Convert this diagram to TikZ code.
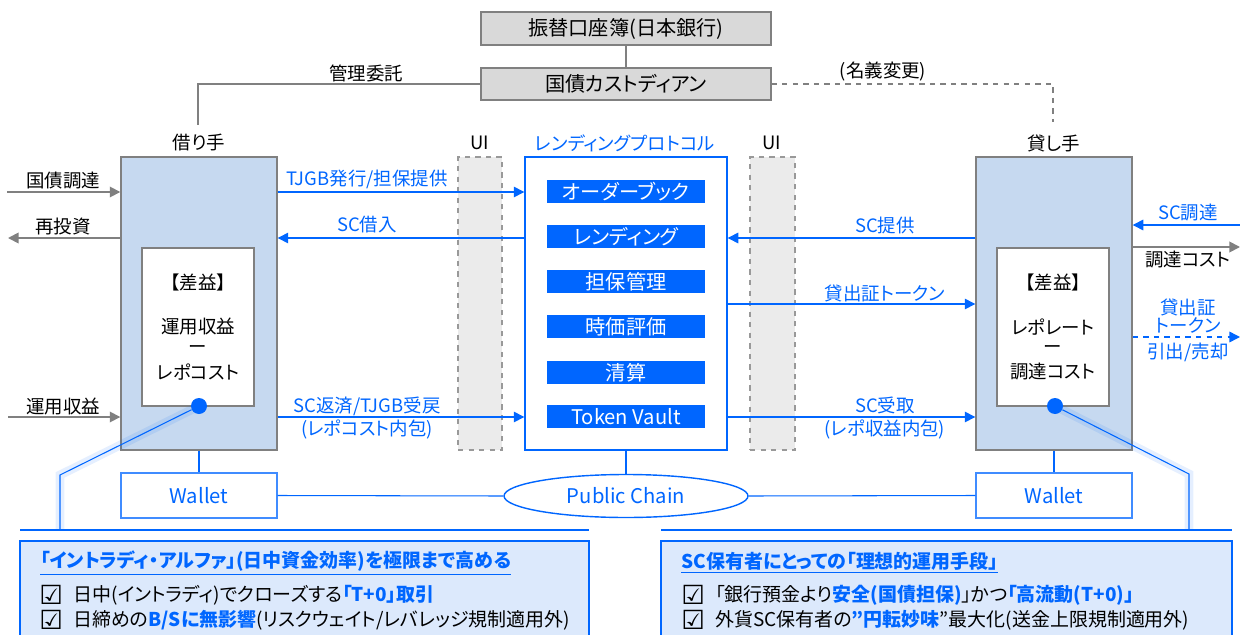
\documentclass[tikz,border=0pt]{standalone}
\usepackage{fontspec}
\setmainfont{Noto Sans CJK JP}[RawFeature={+palt}]
\newfontfamily\dejavu{DejaVu Sans}
\usetikzlibrary{arrows.meta,shapes.geometric,fit}
\definecolor{bl}{RGB}{0,102,255}
\definecolor{gline}{RGB}{128,128,128}
\definecolor{gfill}{RGB}{217,217,217}
\definecolor{lbfill}{RGB}{198,217,240}
\definecolor{pbfill}{RGB}{220,233,252}
\definecolor{uifill}{RGB}{235,235,235}
\newcommand{\fA}{\fontsize{11.5}{13}\selectfont}
\newcommand{\fB}{\fontsize{10.5}{12}\selectfont}
\newcommand{\fC}{\fontsize{10.8}{12}\selectfont}
\newcommand{\hl}[1]{\textbf{\color{bl}#1}}
\newcommand{\ckb}{{\dejavu\bfseries\fontsize{15}{15}\selectfont ☑}}
\tikzset{
 gbox/.style={draw=gline, fill=gfill, line width=0.8pt, inner sep=0pt, font=\fA, minimum width=5.8cm},
 party/.style={draw=gline, fill=lbfill, line width=0.8pt, inner sep=0pt},
 inbox/.style={draw=gline, fill=white, line width=0.6pt, inner sep=0pt},
 uibox/.style={draw=gline!80, fill=uifill, dashed, line width=0.6pt, inner sep=0pt},
 protbox/.style={draw=bl, fill=white, line width=0.8pt, inner sep=0pt},
 pitem/.style={fill=bl, text=white, inner sep=0pt, font=\fA, minimum width=3.16cm, minimum height=0.46cm},
 wallet/.style={draw=bl!75, fill=white, line width=0.8pt, inner sep=0pt, text=bl, font=\fA, minimum width=3.12cm, minimum height=0.9cm},
 lbl/.style={font=\fB, inner sep=0pt},
 blbl/.style={font=\fB, text=bl, inner sep=0pt},
 garr/.style={draw=gline, line width=1pt, -{Triangle[length=6pt,width=6pt]}},
 barr/.style={draw=bl, line width=0.8pt, -{Triangle[length=6pt,width=6pt]}},
 gline/.style={draw=gline, line width=0.8pt},
 bline/.style={draw=bl, line width=0.6pt},
 glow/.style={draw=bl, line width=5pt, opacity=0.10},
 sumbox/.style={draw=bl, fill=pbfill, line width=0.8pt, inner sep=0pt},
 btext/.style={font=\fC, anchor=west, inner sep=0pt},
}
\begin{document}
\begin{tikzpicture}[x=0.02cm,y=-0.02cm]
\useasboundingbox (0,0) rectangle (1240,635);

% top boxes
\node[gbox, minimum height=0.66cm] (jas) at (626,28.5) {振替口座簿(日本銀行)};
\node[gbox, minimum height=0.64cm] (cust) at (626,84) {国債カストディアン};
\draw[gline] (jas) -- (cust);

% column titles
\node[lbl] (tb) at (199,143) {借り手};
\node[lbl] (tui1) at (480,143) {UI};
\node[blbl] (tp) at (625,143) {レンディングプロトコル};
\node[lbl] (tui2) at (772,143) {UI};
\node[lbl] (tl) at (1054,143) {貸し手};

\coordinate (bk) at (198,125);
\coordinate (lk) at (1053,122);
\draw[gline] (cust.west) -| (bk);
\draw[gline, dashed] (cust.east) -| (lk);
\node[lbl] (kanri) at (366,73) {管理委託};
\node[lbl] (meigi) at (883,72) {(名義変更)};

% UI columns
\node[uibox, fit={(458,157) (502,450)}] (ui1) {};
\node[uibox, fit={(750,157) (795,450)}] (ui2) {};

% borrower
\node[party, fit={(121,157) (277,450)}] (bor) {};
\node[inbox, fit={(142,248) (254,406)}] (bin) {};
\node[lbl] (b1) at (198,282) {【差益】};
\node[lbl] (b2) at (198,327) {運用収益};
\node[lbl] (b3) at (198,350) {ー};
\node[lbl] (b4) at (198,372) {レポコスト};

% lender
\node[party, fit={(976,157) (1132,450)}] (len) {};
\node[inbox, fit={(997,248) (1109,406)}] (lin) {};
\node[lbl] (l1) at (1053,282) {【差益】};
\node[lbl] (l2) at (1053,327) {レポレート};
\node[lbl] (l3) at (1053,350) {ー};
\node[lbl] (l4) at (1053,372) {調達コスト};

% protocol
\node[protbox, fit={(525,157) (727,450)}] (prot) {};
\node[pitem] (p1) at (626,191.5) {オーダーブック};
\node[pitem] (p2) at (626,236.5) {レンディング};
\node[pitem] (p3) at (626,281.5) {担保管理};
\node[pitem] (p4) at (626,326.5) {時価評価};
\node[pitem] (p5) at (626,372.5) {清算};
\node[pitem] (p6) at (626,416.5) {Token Vault};

% y reference coordinates
\coordinate (y192) at (0,192);
\coordinate (y238) at (0,238);
\coordinate (y304) at (0,304);
\coordinate (y417) at (0,417);

% left outer arrows
\coordinate (oL1) at (7,192);
\coordinate (oL2) at (8,238);
\coordinate (oL3) at (8,417);
\draw[garr] (oL1) -- (bor.west |- oL1);
\draw[garr] (bor.west |- oL2) -- (oL2);
\draw[garr] (oL3) -- (bor.west |- oL3);
\node[lbl] (t1) at (63,181) {国債調達};
\node[lbl] (t2) at (63,227) {再投資};
\node[lbl] (t3) at (63,407) {運用収益};

% borrower <-> protocol
\draw[barr] (bor.east |- y192) -- (prot.west |- y192);
\draw[barr] (prot.west |- y238) -- (bor.east |- y238);
\draw[barr] (bor.east |- y417) -- (prot.west |- y417);
\node[blbl] (a1) at (367,179) {TJGB発行/担保提供};
\node[blbl] (a2) at (367,225) {SC借入};
\node[blbl] (a3) at (367,406) {SC返済/TJGB受戻};
\node[blbl] (a4) at (367,429) {(レポコスト内包)};

% protocol <-> lender
\draw[barr] (len.west |- y238) -- (prot.east |- y238);
\draw[barr] (prot.east |- y304) -- (len.west |- y304);
\draw[barr] (prot.east |- y417) -- (len.west |- y417);
\node[blbl] (c1) at (885,225) {SC提供};
\node[blbl] (c2) at (885,293) {貸出証トークン};
\node[blbl] (c3) at (885,405) {SC受取};
\node[blbl] (c4) at (885,429) {(レポ収益内包)};

% right outer arrows
\coordinate (oR1) at (1240,225);
\coordinate (oR2) at (1240,247);
\coordinate (oR3) at (1240,337);
\draw[barr] (oR1) -- (len.east |- oR1);
\draw[garr] (len.east |- oR2) -- (oR2);
\draw[barr, dashed] (len.east |- oR3) -- (oR3);
\node[blbl] (r1) at (1188,213) {SC調達};
\node[lbl] (r2) at (1188,260) {調達コスト};
\node[blbl] (r3) at (1188,307) {貸出証};
\node[blbl] (r4) at (1188,325) {トークン};
\node[blbl] (r5) at (1188,352) {引出/売却};

% wallets and chain
\node[wallet] (wl) at (199,495.5) {Wallet};
\node[wallet] (wr) at (1054,495.5) {Wallet};
\node[ellipse, draw=bl, fill=white, line width=0.8pt, minimum width=4.88cm, minimum height=0.86cm, inner sep=0pt, text=bl, font=\fA] (chain) at (626,496) {Public Chain};
\draw[bline] (bor.south) -- (wl.north);
\draw[bline] (len.south) -- (wr.north);
\draw[bline] (prot.south) -- (chain.north);
\draw[bline] (wl.east) -- (chain.west);
\draw[bline] (chain.east) -- (wr.west);

% leaders
\coordinate (kL1) at (60,475);
\coordinate (kL2) at (60,530);
\coordinate (kR1) at (1189,474);
\coordinate (kR2) at (1189,530);
\coordinate (hL1) at (20,530);
\coordinate (hL2) at (589,530);
\coordinate (hR1) at (661,530);
\coordinate (hR2) at (1232,530);
\node[circle, fill=bl, minimum size=0.32cm, inner sep=0pt] (dL) at (199,406) {};
\node[circle, fill=bl, minimum size=0.32cm, inner sep=0pt] (dR) at (1055,406) {};
\draw[glow] (dL.center) -- (kL1) -- (kL2);
\draw[glow] (dR.center) -- (kR1) -- (kR2);
\draw[bline] (dL) -- (kL1) -- (kL2);
\draw[bline] (dR) -- (kR1) -- (kR2);
\draw[bline, line width=0.8pt] (hL1) -- (hL2);
\draw[bline, line width=0.8pt] (hR1) -- (hR2);

% summary boxes
\node[sumbox, fit={(20,541) (589,660)}] (sL) {};
\node[sumbox, fit={(661,541) (1232,660)}] (sR) {};
\node[btext, text=bl, font=\fC\bfseries] (sLt) at (40,563) {\underline{「イントラディ・アルファ」(日中資金効率)を極限まで高める}};
\node[btext] (sLc1) at (39,595) {\ckb};
\node[btext] (sL1) at (73,595) {日中(イントラディ)でクローズする\hl{「T+0」取引}};
\node[btext] (sLc2) at (39,620) {\ckb};
\node[btext] (sL2) at (73,620) {日締めの\hl{B/Sに無影響}(リスクウェイト/レバレッジ規制適用外)};
\node[btext, text=bl, font=\fC\bfseries] (sRt) at (681,563) {\underline{SC保有者にとっての「理想的運用手段」}};
\node[btext] (sRc1) at (681,595) {\ckb};
\node[btext] (sR1) at (715,595) {「銀行預金より\hl{安全(国債担保)}」かつ\hl{「高流動(T+0)」}};
\node[btext] (sRc2) at (681,620) {\ckb};
\node[btext] (sR2) at (715,620) {外貨SC保有者の\hl{”円転妙味}”最大化(送金上限規制適用外)};
\end{tikzpicture}
\end{document}
